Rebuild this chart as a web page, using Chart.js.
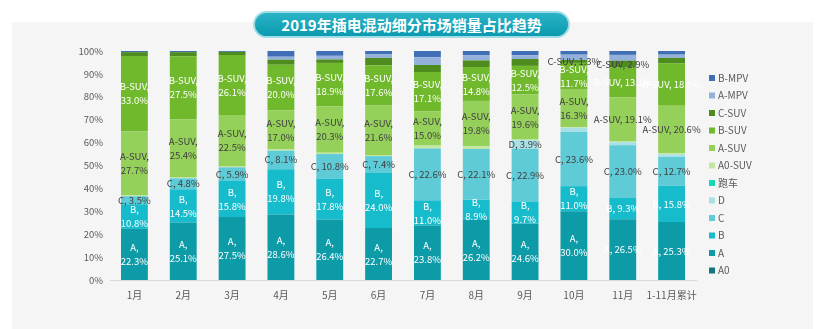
<!DOCTYPE html>
<html>
<head>
<meta charset="utf-8">
<script src="https://cdn.jsdelivr.net/npm/chart.js@4/dist/chart.umd.min.js"></script>
<style>
  html, body { margin: 0; padding: 0; background: #fff; }
  #wrap { position: relative; width: 833px; height: 329px; overflow: hidden; }
  #panel { position: absolute; left: 12px; top: 22px; width: 801px; height: 307px; background: #f5f5f5; }
  #title {
    position: absolute; left: 253px; top: 11px; width: 313px; height: 23px;
    border: 2px solid #9fdce6; border-radius: 14px;
    background: linear-gradient(#2bb3c6, #0a9ab0);
    color: #fff; font: bold 15px "Noto Sans CJK SC", sans-serif;
    line-height: 23px; text-align: center;
  }
  canvas { position: absolute; left: 0; top: 0; }
</style>
</head>
<body>
<div id="wrap">
  <div id="panel"></div>
  <div id="title">2019年插电混动细分市场销量占比趋势</div>
  <canvas id="chart" width="833" height="329"></canvas>
</div>
<script>
const months = ['1月', '2月', '3月', '4月', '5月', '6月', '7月', '8月', '9月', '10月', '11月', '1-11月累计'];

// share of each segment per month, in %
const a0     = [0, 0, 0, 0, 0, 0, 0, 0, 0, 0, 0, 0];
const segA   = [22.3, 25.1, 27.5, 28.6, 26.4, 22.7, 23.8, 26.2, 24.6, 30.0, 26.5, 25.3];
const segB   = [10.8, 14.5, 15.8, 19.8, 17.8, 24.0, 11.0, 8.9, 9.7, 11.0, 9.3, 15.8];
const segC   = [3.5, 4.8, 5.9, 8.1, 10.8, 7.4, 22.6, 22.1, 22.9, 23.6, 23.0, 12.7];
const segD   = [0, 0, 0, 0, 0, 0, 0, 0, 3.9, 1.9, 1.4, 1.1];
const sports = [0, 0, 0, 0, 0, 0, 0, 0, 0, 0, 0, 0];
const a0Suv  = [0.5, 0.4, 0.4, 0.5, 0.6, 0.5, 1.3, 1.2, 0.3, 0.3, 0.5, 0.6];
const aSuv   = [27.7, 25.4, 22.5, 17.0, 20.3, 21.6, 15.0, 19.8, 19.6, 16.3, 19.1, 20.6];
const bSuv   = [33.0, 27.5, 26.1, 20.0, 18.9, 17.6, 17.1, 14.8, 12.5, 11.7, 13.1, 18.5];
const cSuv   = [1.7, 1.8, 1.4, 2.2, 1.5, 3.2, 3.1, 2.9, 3.0, 1.3, 2.9, 2.4];
const aMpv   = [0, 0, 0, 1.3, 1.6, 1.5, 3.4, 2.3, 1.6, 2.3, 2.5, 1.4];
const bMpv   = [0.5, 0.5, 0.4, 2.5, 2.1, 1.5, 2.7, 1.8, 1.9, 1.6, 1.7, 1.6];

const yTicks = [0, 10, 20, 30, 40, 50, 60, 70, 80, 90, 100];

// which points carry a value label ('all' or a list of month indexes)
const labelled = { 'A': 'all', 'B': 'all', 'C': 'all', 'D': [8], 'A-SUV': 'all', 'B-SUV': 'all', 'C-SUV': [9, 10] };
const whiteText = ['A', 'B', 'B-SUV'];

const series = [
  ['A0', a0, '#127580'],
  ['A', segA, '#0d9ba8'],
  ['B', segB, '#16bccb'],
  ['C', segC, '#5ecbd6'],
  ['D', segD, '#a9e0e6'],
  ['跑车', sports, '#14d9b4'],
  ['A0-SUV', a0Suv, '#c2e7a0'],
  ['A-SUV', aSuv, '#95d05a'],
  ['B-SUV', bSuv, '#70b82c'],
  ['C-SUV', cSuv, '#4e8c1f'],
  ['A-MPV', aMpv, '#93b1da'],
  ['B-MPV', bMpv, '#416fb6']
];

const barLabels = {
  id: 'barLabels',
  afterDatasetsDraw(chart) {
    const ctx = chart.ctx;
    ctx.save();
    ctx.font = '9.5px "Noto Sans CJK SC", sans-serif';
    ctx.textAlign = 'center';
    ctx.textBaseline = 'middle';
    chart.data.datasets.forEach((ds, di) => {
      const shown = labelled[ds.label];
      if (!shown) return;
      chart.getDatasetMeta(di).data.forEach((bar, i) => {
        if (shown !== 'all' && !shown.includes(i)) return;
        const pct = ds.data[i].toFixed(1) + '%';
        const y = (bar.y + bar.base) / 2;
        ctx.fillStyle = whiteText.includes(ds.label) ? '#ffffff' : '#404040';
        // C, D, C-SUV and the last two columns are written on one line
        if (i >= 10 || ['C', 'D', 'C-SUV'].includes(ds.label)) {
          ctx.fillText(ds.label + ', ' + pct, bar.x, y);
        } else {
          ctx.fillText(ds.label + ',', bar.x, y - 7);
          ctx.fillText(pct, bar.x, y + 7);
        }
      });
    });
    ctx.restore();
  }
};

const sideLegend = {
  id: 'sideLegend',
  afterDraw(chart) {
    const ctx = chart.ctx;
    const x = chart.chartArea.right + 13;
    ctx.save();
    ctx.font = '10px "Noto Sans CJK SC", sans-serif';
    ctx.textBaseline = 'middle';
    const items = chart.data.datasets.slice().reverse();
    items.forEach((ds, k) => {
      const y = 78 + k * 17.5;
      ctx.fillStyle = ds.backgroundColor;
      ctx.fillRect(x, y - 3, 6, 6);
      ctx.fillStyle = '#595959';
      ctx.fillText(ds.label, x + 9, y);
    });
    ctx.restore();
  }
};

new Chart(document.getElementById('chart'), {
  type: 'bar',
  data: {
    labels: months,
    datasets: series.map(([label, data, color]) => ({
      label,
      data,
      backgroundColor: color,
      borderWidth: 0,
      barPercentage: 0.55,
      categoryPercentage: 1
    }))
  },
  options: {
    responsive: false,
    animation: false,
    layout: { padding: { left: 70, right: 137, top: 51, bottom: 19 } },
    plugins: {
      legend: { display: false },
      tooltip: { enabled: false }
    },
    scales: {
      x: {
        stacked: true,
        grid: { display: false, drawTicks: false },
        border: { color: '#d9d9d9' },
        ticks: {
          color: '#595959',
          font: { size: 10, family: '"Noto Sans CJK SC"' },
          padding: 9,
          autoSkip: false,
          maxRotation: 0,
          minRotation: 0
        },
        afterFit(scale) { scale.height = 30; }
      },
      y: {
        stacked: true,
        min: 0,
        max: 100,
        grid: { display: false, drawTicks: false },
        border: { display: false },
        afterBuildTicks(scale) { scale.ticks = yTicks.map(v => ({ value: v })); },
        ticks: {
          color: '#595959',
          font: { size: 9.5, family: '"Noto Sans CJK SC"' },
          padding: 7,
          callback: v => v + '%'
        },
        afterFit(scale) { scale.width = 40; }
      }
    }
  },
  plugins: [barLabels, sideLegend]
});
</script>
</body>
</html>
